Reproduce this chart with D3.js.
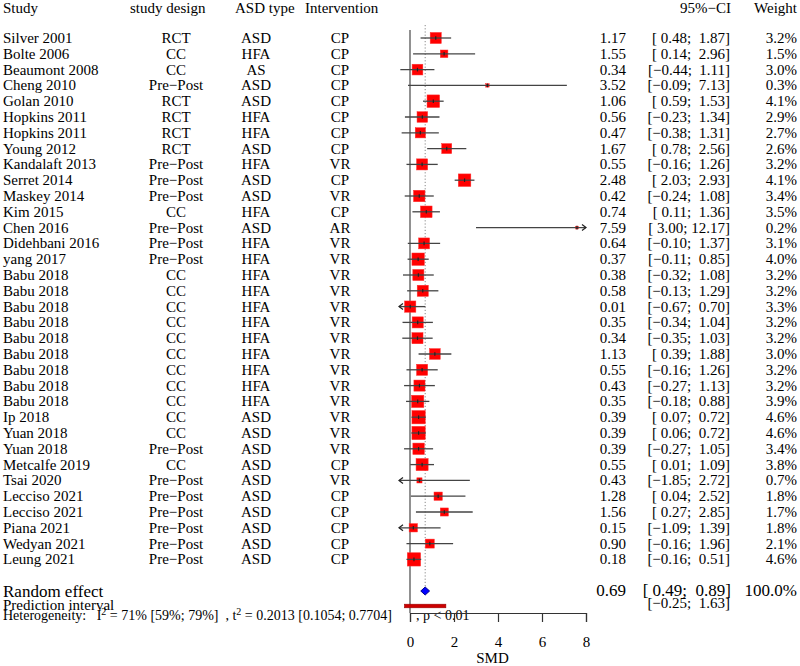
<!DOCTYPE html>
<html><head><meta charset="utf-8">
<script src="https://cdn.jsdelivr.net/npm/d3@7"></script>
<style>
html,body{margin:0;padding:0;background:#fff;}
svg text{font-family:"Liberation Serif","Times New Roman",serif;fill:#000;white-space:pre;}
</style></head>
<body><svg id="c" width="800" height="666"></svg>
<script>
const studies = ["Silver 2001","Bolte 2006","Beaumont 2008","Cheng 2010","Golan 2010","Hopkins 2011","Hopkins 2011","Young 2012","Kandalaft 2013","Serret 2014","Maskey 2014","Kim 2015","Chen 2016","Didehbani 2016","yang 2017","Babu 2018","Babu 2018","Babu 2018","Babu 2018","Babu 2018","Babu 2018","Babu 2018","Babu 2018","Babu 2018","Ip 2018","Yuan 2018","Yuan 2018","Metcalfe 2019","Tsai 2020","Lecciso 2021","Lecciso 2021","Piana 2021","Wedyan 2021","Leung 2021"];
const designs = ["RCT","CC","CC","Pre−Post","RCT","RCT","RCT","RCT","Pre−Post","Pre−Post","Pre−Post","CC","Pre−Post","Pre−Post","Pre−Post","CC","CC","CC","CC","CC","CC","CC","CC","CC","CC","CC","Pre−Post","CC","Pre−Post","Pre−Post","Pre−Post","Pre−Post","Pre−Post","Pre−Post"];
const asdTypes = ["ASD","HFA","AS","ASD","ASD","HFA","HFA","ASD","HFA","ASD","ASD","HFA","ASD","HFA","HFA","HFA","HFA","HFA","HFA","HFA","HFA","HFA","HFA","HFA","ASD","ASD","ASD","ASD","ASD","ASD","ASD","ASD","ASD","ASD"];
const interventions = ["CP","CP","CP","CP","CP","CP","CP","CP","VR","CP","VR","CP","AR","VR","VR","VR","VR","VR","VR","VR","VR","VR","VR","VR","VR","VR","VR","CP","VR","CP","CP","CP","CP","CP"];
const smd = [1.17,1.55,0.34,3.52,1.06,0.56,0.47,1.67,0.55,2.48,0.42,0.74,7.59,0.64,0.37,0.38,0.58,0.01,0.35,0.34,1.13,0.55,0.43,0.35,0.39,0.39,0.39,0.55,0.43,1.28,1.56,0.15,0.90,0.18];
const ciLower = [0.48,0.14,-0.44,-0.09,0.59,-0.23,-0.38,0.78,-0.16,2.03,-0.24,0.11,3.00,-0.10,-0.11,-0.32,-0.13,-0.67,-0.34,-0.35,0.39,-0.16,-0.27,-0.18,0.07,0.06,-0.27,0.01,-1.85,0.04,0.27,-1.09,-0.16,-0.16];
const ciUpper = [1.87,2.96,1.11,7.13,1.53,1.34,1.31,2.56,1.26,2.93,1.08,1.36,12.17,1.37,0.85,1.08,1.29,0.70,1.04,1.03,1.88,1.26,1.13,0.88,0.72,0.72,1.05,1.09,2.72,2.52,2.85,1.39,1.96,0.51];
const weights = [3.2,1.5,3.0,0.3,4.1,2.9,2.7,2.6,3.2,4.1,3.4,3.5,0.2,3.1,4.0,3.2,3.2,3.3,3.2,3.2,3.0,3.2,3.2,3.9,4.6,4.6,3.4,3.8,0.7,1.8,1.7,1.8,2.1,4.6];
const pooledEst = 0.69, pooledLo = 0.49, pooledHi = 0.89, pooledWeight = 100.0;
const predLo = -0.25, predHi = 1.63;
const xTicks = [0,2,4,6,8];
const headers = ["Study","study design","ASD type","Intervention","95%−CI","Weight"];

const svg = d3.select("#c");
const x = d3.scaleLinear().domain([0,8]).range([410,586]);
const clipMin = -0.5, clipMax = 8;
const y = d3.scalePoint().domain(d3.range(studies.length)).range([38,559.4]);
const side = d3.scaleSqrt().domain([0,4.6]).range([0,13.3]);
const f2 = v => d3.format(".2f")(v).replace("-","−");
const pad = (s,n) => " ".repeat(Math.max(0,n-s.length)) + s;
const ciText = (l,u) => "[" + pad(f2(l),5) + "; " + pad(f2(u),5) + "]";
const FS = 15;

// headers
const hy = 13;
svg.append("text").attr("x",3).attr("y",hy).attr("font-size",FS).text(headers[0]);
svg.append("text").attr("x",130).attr("y",hy).attr("font-size",FS).text(headers[1]);
svg.append("text").attr("x",235).attr("y",hy).attr("font-size",FS).text(headers[2]);
svg.append("text").attr("x",305).attr("y",hy).attr("font-size",FS).text(headers[3]);
svg.append("text").attr("x",731).attr("y",hy).attr("font-size",FS).attr("text-anchor","end").text(headers[4]);
svg.append("text").attr("x",797).attr("y",hy).attr("font-size",FS).attr("text-anchor","end").text(headers[5]);

// reference lines
svg.append("line").attr("x1",x(0)).attr("x2",x(0)).attr("y1",30).attr("y2",613).attr("stroke","#555").attr("stroke-width",1.3);
svg.append("line").attr("x1",x(pooledEst)).attr("x2",x(pooledEst)).attr("y1",25).attr("y2",588)
  .attr("stroke","#888").attr("stroke-width",1).attr("stroke-dasharray","1.2,2");

// rows
const rowData = studies.map((s,i)=>({i}));
const rows = svg.append("g").selectAll("g").data(rowData).join("g");
const ty = d => y(d.i)+5;
rows.append("text").attr("x",3).attr("y",ty).attr("font-size",FS).text(d=>studies[d.i]);
rows.append("text").attr("x",176).attr("y",ty).attr("font-size",FS).attr("text-anchor","middle").text(d=>designs[d.i]);
rows.append("text").attr("x",256).attr("y",ty).attr("font-size",FS).attr("text-anchor","middle").text(d=>asdTypes[d.i]);
rows.append("text").attr("x",340).attr("y",ty).attr("font-size",FS).attr("text-anchor","middle").text(d=>interventions[d.i]);
rows.append("text").attr("x",626).attr("y",ty).attr("font-size",FS).attr("text-anchor","end").text(d=>f2(smd[d.i]));
rows.append("text").attr("x",730).attr("y",ty).attr("font-size",FS).attr("text-anchor","end").text(d=>ciText(ciLower[d.i],ciUpper[d.i]));
rows.append("text").attr("x",797).attr("y",ty).attr("font-size",FS).attr("text-anchor","end").text(d=>d3.format(".1f")(weights[d.i])+"%");

// boxes
rows.append("rect")
  .attr("x",d=>x(smd[d.i])-side(weights[d.i])/2)
  .attr("y",d=>y(d.i)-side(weights[d.i])/2)
  .attr("width",d=>side(weights[d.i]))
  .attr("height",d=>side(weights[d.i]))
  .attr("fill","#ff0000").attr("stroke","#ff3030").attr("stroke-width",0.5);
// CI lines
rows.append("line")
  .attr("x1",d=>x(Math.max(ciLower[d.i],clipMin)))
  .attr("x2",d=>x(Math.min(ciUpper[d.i],clipMax)))
  .attr("y1",d=>y(d.i)).attr("y2",d=>y(d.i))
  .attr("stroke","#444").attr("stroke-width",1.3);
// estimate tick
rows.append("line")
  .attr("x1",d=>x(smd[d.i])).attr("x2",d=>x(smd[d.i]))
  .attr("y1",d=>y(d.i)-1.8).attr("y2",d=>y(d.i)+1.8)
  .attr("stroke","#222").attr("stroke-width",1.2);
// arrows
rows.filter(d=>ciLower[d.i]<clipMin).append("path")
  .attr("d",d=>{const ax=x(clipMin), ay=y(d.i); return `M${ax+4},${ay-3}L${ax},${ay}L${ax+4},${ay+3}`;})
  .attr("fill","none").attr("stroke","#222").attr("stroke-width",1.2);
rows.filter(d=>ciUpper[d.i]>clipMax).append("path")
  .attr("d",d=>{const ax=x(clipMax), ay=y(d.i); return `M${ax-4},${ay-3}L${ax},${ay}L${ax-4},${ay+3}`;})
  .attr("fill","none").attr("stroke","#222").attr("stroke-width",1.2);

// pooled
const py = 591;
svg.append("path")
  .attr("d",`M${x(pooledLo)},${py}L${x(pooledEst)},${py-4}L${x(pooledHi)},${py}L${x(pooledEst)},${py+4}Z`)
  .attr("fill","#0000ff").attr("stroke","#00008b").attr("stroke-width",1);
svg.append("text").attr("x",3).attr("y",597).attr("font-size",17).text("Random effect");
svg.append("text").attr("x",626).attr("y",596).attr("font-size",17).attr("text-anchor","end").text(f2(pooledEst));
svg.append("text").attr("x",731).attr("y",596).attr("font-size",17).attr("text-anchor","end").text(ciText(pooledLo,pooledHi));
svg.append("text").attr("x",797).attr("y",596).attr("font-size",17).attr("text-anchor","end").text(d3.format(".1f")(pooledWeight)+"%");

// prediction interval
const piy = 606;
svg.append("rect").attr("x",x(predLo)).attr("y",piy-1.8).attr("width",x(predHi)-x(predLo)).attr("height",3.6)
  .attr("fill","#cc0000").attr("stroke","#990000").attr("stroke-width",0.6);
svg.append("text").attr("x",3).attr("y",610).attr("font-size",FS).text("Prediction interval");
svg.append("text").attr("x",730).attr("y",608).attr("font-size",FS).attr("text-anchor","end").text(ciText(predLo,predHi));

// heterogeneity
const het = svg.append("text").attr("x",3).attr("y",620).attr("font-size",14);
het.append("tspan").text("Heterogeneity:   I");
het.append("tspan").attr("dy",-5).attr("font-size",10).text("2");
het.append("tspan").attr("dy",5).text(" = 71% [59%; 79%]  , t");
het.append("tspan").attr("dy",-5).attr("font-size",10).text("2");
het.append("tspan").attr("dy",5).text(" = 0.2013 [0.1054; 0.7704]");
svg.append("text").attr("x",416).attr("y",620).attr("font-size",14).text(", p < 0.01");

// axis
const axis = svg.append("g").attr("transform","translate(0,613)")
  .call(d3.axisBottom(x).tickValues(xTicks).tickFormat(d3.format("d")).tickSize(9).tickPadding(14));
axis.select(".domain").attr("stroke","#333").attr("stroke-width",1.2);
axis.selectAll(".tick line").attr("stroke","#333").attr("stroke-width",1.2);
axis.selectAll(".tick text").attr("font-size",15).attr("font-family","Liberation Serif").attr("fill","#000");
svg.append("text").attr("x",(x(clipMin)+x(clipMax))/2).attr("y",663).attr("font-size",FS).attr("text-anchor","middle").text("SMD");
</script></body></html>
